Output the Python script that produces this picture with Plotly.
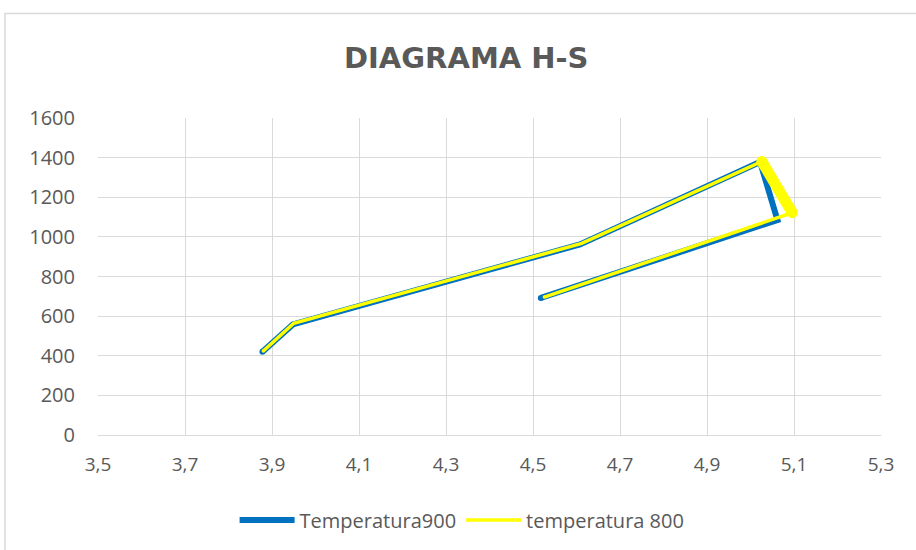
import plotly.graph_objects as go

# Entropy (s) and enthalpy (h) readings for each temperature run
s_900 = [3.878, 3.948, 4.608, 5.022, 5.062, 4.518]
h_900 = [420, 558, 962, 1378, 1085, 692]

s_800 = [3.880, 3.950, 4.612, 5.026, 5.096, 4.526]
h_800 = [424, 564, 967, 1381, 1122, 696]

x_ticks = [3.5, 3.7, 3.9, 4.1, 4.3, 4.5, 4.7, 4.9, 5.1, 5.3]
x_labels = ["3,5", "3,7", "3,9", "4,1", "4,3", "4,5", "4,7", "4,9", "5,1", "5,3"]
y_ticks = [0, 200, 400, 600, 800, 1000, 1200, 1400, 1600]

BLUE = "#0070C0"
YELLOW = "#FFFF00"
GRID = "#D9D9D9"
TEXT = "#595959"
FONT = "Open Sans"

fig = go.Figure()

fig.add_trace(go.Scatter(
    x=s_900, y=h_900, mode="lines", name="Temperatura900",
    line=dict(color=BLUE, width=6),
))
# round ends of the blue line
fig.add_trace(go.Scatter(
    x=[s_900[0], s_900[-1]], y=[h_900[0], h_900[-1]], mode="markers",
    marker=dict(color=BLUE, size=6), showlegend=False, hoverinfo="skip",
))

fig.add_trace(go.Scatter(
    x=s_800, y=h_800, mode="lines", name="temperatura 800",
    line=dict(color=YELLOW, width=3.5),
))
# emphasised segment of the 800 run, drawn heavier
fig.add_trace(go.Scatter(
    x=s_800[3:5], y=h_800[3:5], mode="lines+markers",
    line=dict(color=YELLOW, width=11),
    marker=dict(color=YELLOW, size=11),
    showlegend=False, hoverinfo="skip",
))
fig.add_trace(go.Scatter(
    x=[s_800[0], s_800[-1]], y=[h_800[0], h_800[-1]], mode="markers",
    marker=dict(color=YELLOW, size=3.5), showlegend=False, hoverinfo="skip",
))

# chart-area frame
fig.add_shape(type="rect", xref="paper", yref="paper",
              x0=-0.1188, x1=1.2, y0=-0.6, y1=1.330,
              line=dict(color=GRID, width=1.5), fillcolor="rgba(0,0,0,0)",
              layer="below")

fig.update_layout(
    width=916, height=550,
    margin=dict(l=98, r=35, t=118, b=114),
    paper_bgcolor="white", plot_bgcolor="white",
    title=dict(text="<b>DIAGRAMA H-S</b>", x=0.509, xref="container",
               xanchor="center", y=0.895, yref="container", yanchor="middle",
               font=dict(family="DejaVu Sans", size=29, color=TEXT)),
    font=dict(family=FONT, size=19, color=TEXT),
    showlegend=True,
    legend=dict(orientation="h", x=0.465, xanchor="center", y=-0.264,
                yanchor="middle", font=dict(family=FONT, size=20, color=TEXT),
                itemwidth=55, bgcolor="rgba(0,0,0,0)"),
    xaxis=dict(range=[3.5, 5.3], tickvals=x_ticks, ticktext=x_labels,
               showgrid=True, gridcolor=GRID, gridwidth=1,
               zeroline=False, showline=True, linecolor=GRID, linewidth=1,
               mirror=False, ticks="", ticklabelstandoff=12,
               tickfont=dict(family=FONT, size=19, color=TEXT)),
    yaxis=dict(range=[0, 1600], tickvals=y_ticks,
               showgrid=True, gridcolor=GRID, gridwidth=1,
               zeroline=False, showline=False, ticks="",
               ticklabelstandoff=22,
               tickfont=dict(family=FONT, size=20, color=TEXT)),
)

fig.write_html("out.html")
